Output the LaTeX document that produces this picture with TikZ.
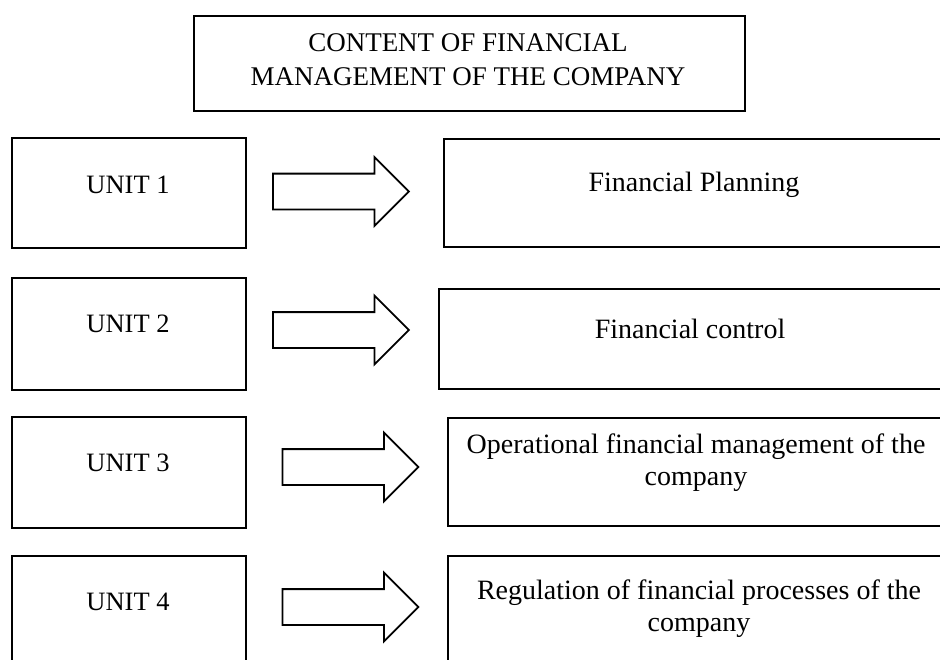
\documentclass[tikz,border=0pt]{standalone}
\usepackage{fontspec}
\setmainfont{Liberation Serif}
\usetikzlibrary{shapes.arrows}

\begin{document}
\begin{tikzpicture}[x=1pt, y=-1pt,
		box/.style={draw, line width=1.8pt, rectangle, inner sep=0pt, anchor=north west},
		lbl/.style={anchor=base, align=center, inner sep=0pt, font=\fontsize{26.5}{32}\selectfont},
		widelbl/.style={lbl, font=\fontsize{28}{32}\selectfont},
		blockarrow/.style={draw, line width=1.8pt, single arrow, anchor=tail, inner xsep=0pt, inner ysep=17pt,
			single arrow head extend=16.5pt, minimum height=136pt, minimum width=0pt}]
		%%%%% START %%%%%
		\useasboundingbox (0, 0) rectangle (940, 659);
		\clip (0, 0) rectangle (940, 659);
		
		% title
		\node[box, minimum width=551pt, minimum height=95pt] (title) at (193, 15) {};
		\node[lbl, font=\fontsize{27}{34}\selectfont] (titletext) at (468, 85) {CONTENT OF FINANCIAL\\MANAGEMENT OF THE COMPANY};
		
		% units
		\node[box, minimum width=234pt, minimum height=110pt] (unit1) at (11, 137) {};
		\node[box, minimum width=234pt, minimum height=112pt] (unit2) at (11, 277) {};
		\node[box, minimum width=234pt, minimum height=111pt] (unit3) at (11, 416) {};
		\node[box, minimum width=234pt, minimum height=111pt] (unit4) at (11, 555) {};
		\node[lbl] (unit1text) at (128, 193) {UNIT 1};
		\node[lbl] (unit2text) at (128, 332) {UNIT 2};
		\node[lbl] (unit3text) at (128, 471) {UNIT 3};
		\node[lbl] (unit4text) at (128, 610) {UNIT 4};
		
		% arrows
		\node[blockarrow] (arrow1) at (272, 191.5) {};
		\node[blockarrow] (arrow2) at (272, 330) {};
		\node[blockarrow] (arrow3) at (281.5, 467) {};
		\node[blockarrow] (arrow4) at (281.5, 607) {};
		
		% contents
		\node[box, minimum width=502pt, minimum height=108pt] (plan) at (443, 138) {};
		\node[box, minimum width=504pt, minimum height=100pt] (control) at (438, 288) {};
		\node[box, minimum width=498pt, minimum height=108pt] (oper) at (447, 417) {};
		\node[box, minimum width=498pt, minimum height=110pt] (regul) at (447, 555) {};
		\node[widelbl] (plantext) at (694, 191) {Financial Planning};
		\node[widelbl] (controltext) at (690, 338) {Financial control};
		\node[widelbl] (opertext) at (696, 485) {Operational financial management of the\\company};
		\node[widelbl] (regultext) at (699, 631) {Regulation of financial processes of the\\company};
		%%%%% END %%%%%
	\end{tikzpicture}
\end{document}
